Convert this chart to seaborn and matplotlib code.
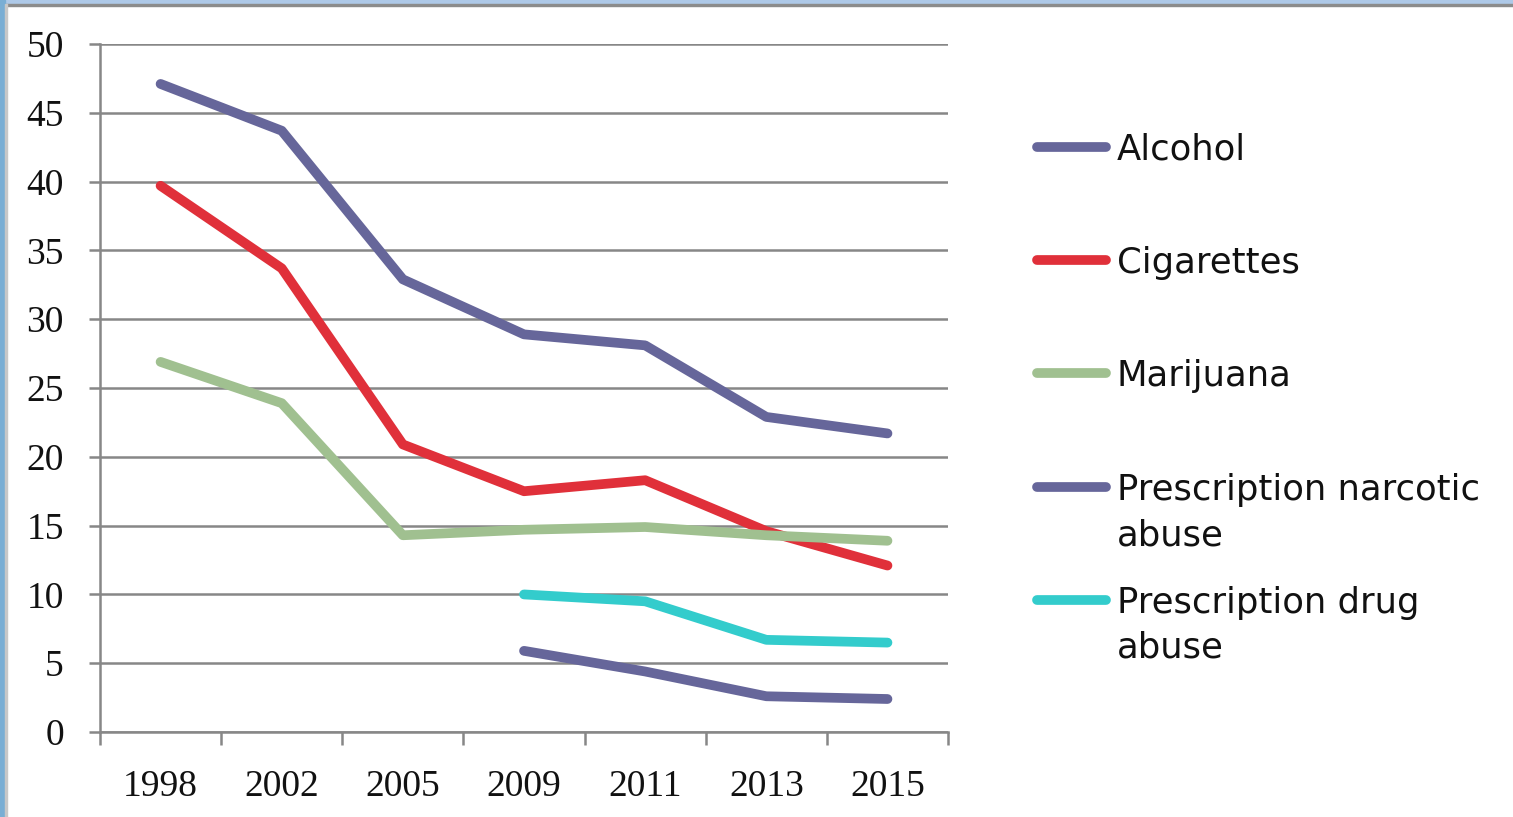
import numpy as np
import pandas as pd
import matplotlib
matplotlib.use("Agg")
import matplotlib.pyplot as plt
import seaborn as sns
from matplotlib.lines import Line2D
from matplotlib.patches import Rectangle

# --- Data ---
years = ["1998", "2002", "2005", "2009", "2011", "2013", "2015"]
alcohol = [47.1, 43.7, 32.9, 28.9, 28.1, 22.9, 21.7]
cigarettes = [39.7, 33.7, 20.9, 17.5, 18.3, 14.6, 12.1]
marijuana = [26.9, 23.9, 14.3, 14.7, 14.9, 14.3, 13.9]
rx_narcotic = [np.nan, np.nan, np.nan, 5.9, 4.4, 2.6, 2.4]
rx_drug = [np.nan, np.nan, np.nan, 10.0, 9.5, 6.7, 6.5]

series_names = ["Alcohol", "Cigarettes", "Marijuana",
                "Prescription narcotic\nabuse", "Prescription drug\nabuse"]
series_values = [alcohol, cigarettes, marijuana, rx_narcotic, rx_drug]
colors = ["#66669A", "#E0303A", "#A0C090", "#66669A", "#33CCCC"]
y_ticks = [0, 5, 10, 15, 20, 25, 30, 35, 40, 45, 50]

rows = []
for name, vals in zip(series_names, series_values):
    for i, v in enumerate(vals):
        rows.append({"pos": i, "year": years[i], "series": name, "value": v})
df = pd.DataFrame(rows).dropna()

sns.set_theme(style="white")
fig = plt.figure(figsize=(15.13, 8.17), dpi=100)
ax = fig.add_axes([0.0661, 0.104, 0.5605, 0.8421])

sns.lineplot(data=df, x="pos", y="value", hue="series", hue_order=series_names,
             palette=dict(zip(series_names, colors)), linewidth=7,
             legend=False, ax=ax, sort=False)
for ln in ax.get_lines():
    ln.set_solid_capstyle("round")
    ln.set_solid_joinstyle("round")

grid_col = "#878787"
ax.set_xlim(-0.5, len(years) - 0.5)
ax.set_ylim(0, 50)
ax.set_yticks(y_ticks)
ax.set_yticklabels([str(t) for t in y_ticks])
ax.set_xticks(range(len(years)))
ax.set_xticklabels(years)
ax.set_xticks(np.arange(-0.5, len(years)), minor=True)
ax.yaxis.grid(True, color=grid_col, linewidth=1.8)
ax.set_axisbelow(True)
ax.set_xlabel("")
ax.set_ylabel("")

for s in ["top", "right"]:
    ax.spines[s].set_visible(False)
for s in ["left", "bottom"]:
    ax.spines[s].set_color(grid_col)
    ax.spines[s].set_linewidth(1.8)

ax.tick_params(axis="y", which="major", left=True, length=8, width=1.8,
               color=grid_col, pad=18, labelsize=27)
ax.tick_params(axis="x", which="major", bottom=False, length=0, pad=27, labelsize=27)
ax.tick_params(axis="x", which="minor", bottom=True, length=9.5, width=1.8,
               color=grid_col)
for lab in ax.get_xticklabels() + ax.get_yticklabels():
    lab.set_fontfamily(["Liberation Serif", "DejaVu Serif"])
    lab.set_color("#111111")

# --- Legend on the right, handle aligned with the first line of text ---
leg_rows = [147, 260, 373, 487, 600]
H = 817.0
W = 1513.0
line_gap = 45
for name, col, yp in zip(series_names, colors, leg_rows):
    yf = 1 - yp / H
    fig.add_artist(Line2D([1037 / W, 1106 / W], [yf, yf], color=col,
                          linewidth=7, solid_capstyle="round",
                          transform=fig.transFigure))
    for k, part in enumerate(name.split("\n")):
        fig.text(1117 / W, 1 - (yp + 13 + k * line_gap) / H, part,
                 va="baseline", ha="left", fontsize=25.5,
                 family=["DejaVu Sans"], color="#111111")

# --- Window frame edges ---
fig.add_artist(Rectangle((0, 1 - 4 / H), 1, 4 / H, color="#AEC9E8",
                         transform=fig.transFigure))
fig.add_artist(Rectangle((0, 1 - 6 / H), 1, 2 / H, color="#8C8C8C",
                         transform=fig.transFigure))
fig.add_artist(Rectangle((0, 0), 5 / W, 1, color="#7AAED4",
                         transform=fig.transFigure))
fig.add_artist(Rectangle((5 / W, 0), 2 / W, 1 - 4 / H, color="#C8C8C8",
                         transform=fig.transFigure))

fig.savefig("out.png", dpi=100)
